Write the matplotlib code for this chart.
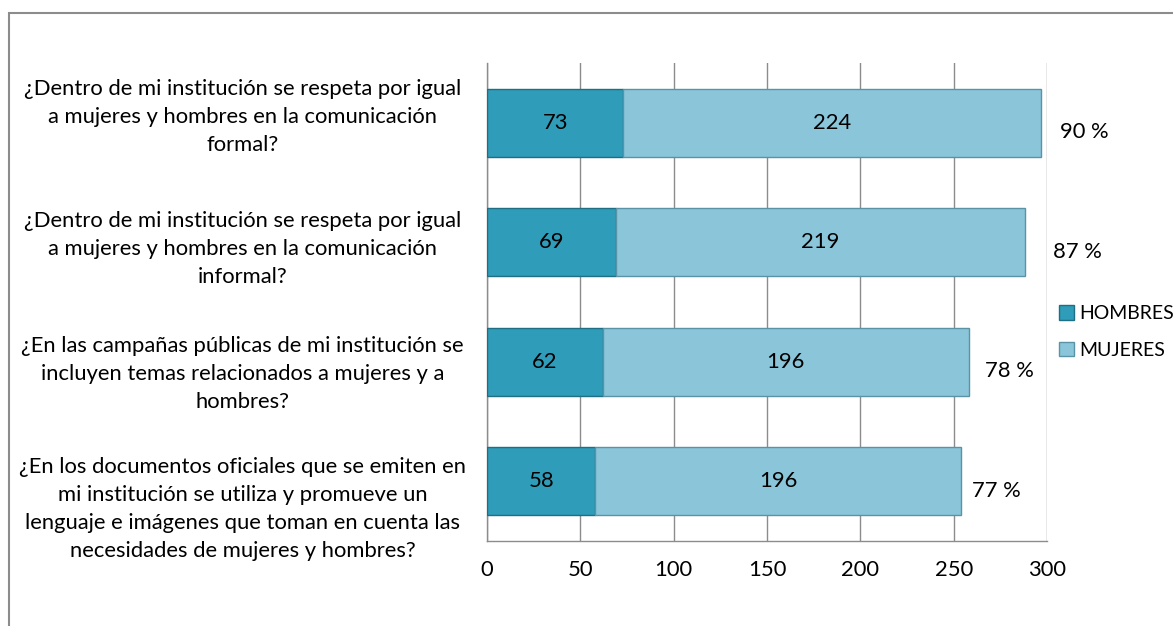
import matplotlib.pyplot as plt
from matplotlib.patches import Rectangle
from matplotlib.transforms import ScaledTranslation

# survey data
preguntas = [
    "¿Dentro de mi institución se respeta por igual\na mujeres y hombres en la comunicación\nformal?",
    "¿Dentro de mi institución se respeta por igual\na mujeres y hombres en la comunicación\ninformal?",
    "¿En las campañas públicas de mi institución se\nincluyen temas relacionados a mujeres y a\nhombres?",
    "¿En los documentos oficiales que se emiten en\nmi institución se utiliza y promueve un\nlenguaje e imágenes que toman en cuenta las\nnecesidades de mujeres y hombres?",
]
hombres = [73, 69, 62, 58]
mujeres = [224, 219, 196, 196]
porcentajes = [90, 87, 78, 77]
xticks = [0, 50, 100, 150, 200, 250, 300]

# extra gap (data units) between bar end and the % label, as Excel placed them
pct_gap = [10, 15, 9, 6]
# Excel spreads the category labels a bit wider than the bars (pixels, down)
label_shift = [-12, 1, 6, 22]

plt.rcParams['font.family'] = ['Lato', 'DejaVu Sans']
fs = 15.8

c_h, e_h = '#2f9cb9', '#1e6e84'
c_m, e_m = '#8ac5d9', '#5b93a6'

fig = plt.figure(figsize=(11.73, 6.26), dpi=100)
ax = fig.add_axes([487 / 1173, 1 - 541 / 626, 560 / 1173, 478 / 626])

y = list(range(len(preguntas)))
ax.barh(y, hombres, height=0.57, color=c_h, edgecolor=e_h, linewidth=1.0,
        label='HOMBRES', zorder=3)
ax.barh(y, mujeres, left=hombres, height=0.57, color=c_m, edgecolor=e_m,
        linewidth=1.0, label='MUJERES', zorder=3)

for i in y:
    ax.text(hombres[i] / 2, i, str(hombres[i]), ha='center', va='center',
            fontsize=fs, zorder=4)
    ax.text(hombres[i] + mujeres[i] / 2, i, str(mujeres[i]), ha='center',
            va='center', fontsize=fs, zorder=4)
    tot = hombres[i] + mujeres[i]
    ax.text(tot + pct_gap[i], i + 0.08, f"{porcentajes[i]} %", ha='left',
            va='center', fontsize=fs, zorder=4)

ax.set_xlim(0, 300)
ax.set_ylim(3.5, -0.5)
ax.set_xticks(xticks)
ax.set_xticklabels([str(t) for t in xticks], fontsize=fs)
ax.set_yticks(y)
ax.set_yticklabels(preguntas, fontsize=fs, ha='center', linespacing=1.5)
ax.tick_params(axis='y', length=0, pad=176)
ax.tick_params(axis='x', length=0, pad=14)
for lab, d in zip(ax.get_yticklabels(), label_shift):
    lab.set_transform(lab.get_transform() +
                      ScaledTranslation(0, -d / 100, fig.dpi_scale_trans))

ax.grid(axis='x', color='#8c8c8c', linewidth=1.0, zorder=0)
for s in ['top', 'right']:
    ax.spines[s].set_visible(False)
for s in ['left', 'bottom']:
    ax.spines[s].set_color('#8c8c8c')
    ax.spines[s].set_linewidth(1.0)

leg = ax.legend(loc='center left', bbox_to_anchor=(1.022, 0.437), frameon=False,
                fontsize=14, handlelength=0.75, handleheight=0.75,
                handletextpad=0.3, labelspacing=1.0, borderaxespad=0,
                borderpad=0)

# outer chart frame (cut by the image edge on right and bottom)
fig.patches.append(Rectangle((9 / 1173, -0.1), 1.2, (1 - 13 / 626) + 0.1,
                             transform=fig.transFigure, fill=False,
                             edgecolor='#8c8c8c', linewidth=1.5))

fig.savefig('out.png', dpi=100)
